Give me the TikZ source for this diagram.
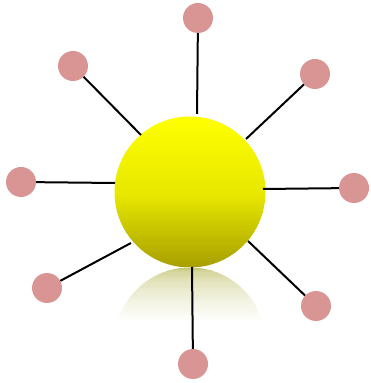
\documentclass[tikz,border=0pt]{standalone}
\usepackage{tikz}
\usetikzlibrary{positioning}
\definecolor{cPink}{HTML}{D99594}
\definecolor{cSunTop}{HTML}{FFFF00}
\definecolor{cSunMid}{HTML}{E8E800}
\definecolor{cSunBot}{HTML}{A8A000}
\definecolor{cRefl}{HTML}{C8C87C}
\definecolor{cInk}{HTML}{000000}
\tikzset{
  sun/.style ={circle,minimum size=151pt,inner sep=0pt},
  ball/.style={circle,minimum size=30pt,inner sep=0pt,fill=cPink},
  ray/.style ={line width=2pt,cInk},
}

\begin{document}
\begin{tikzpicture}[x=1pt,y=1pt]
\useasboundingbox (0,0) rectangle (371,383);
% reflection under the sun
\begin{scope}
  \clip (190,40) circle (75.5);
  \foreach \i in {0,...,24}{
    \pgfmathtruncatemacro\p{100*sqrt(\i/24)}
    \fill[white!\p!cRefl] (110,{115-\i*2.2}) rectangle (270,{115-(\i+1)*2.2-0.4});
  }
\end{scope}
% the sun, shaded in strips
\node[sun] (sun) at (190,191) {};
\begin{scope}
  \clip (sun.center) circle (75.5);
  \foreach \i in {0,...,29}{
    \pgfmathtruncatemacro\p{100*\i/29}
    \fill[cSunMid!\p!cSunTop] (110,{266.5-\i*2.52}) rectangle (270,{266.5-(\i+1)*2.52-0.4});
  }
  \foreach \i in {0,...,29}{
    \pgfmathtruncatemacro\p{100*\i/29}
    \fill[cSunBot!\p!cSunMid] (110,{191-\i*2.52}) rectangle (270,{191-(\i+1)*2.52-0.4});
  }
\end{scope}
\node[ball] (p1) at (198,365) {};
\node[ball] (p2) at (315,309) {};
\node[ball] (p3) at (354,195) {};
\node[ball] (p4) at (316,77)  {};
\node[ball] (p5) at (193,19)  {};
\node[ball] (p6) at (47,95)   {};
\node[ball] (p7) at (21,201)  {};
\node[ball] (p8) at (73,317)  {};
% ends on the sun
\coordinate (e1) at (197,269);
\coordinate (e2) at (246,244);
\coordinate (e3) at (263,194);
\coordinate (e4) at (248,142);
\coordinate (e5) at (192,116);
\coordinate (e6) at (131,140);
\coordinate (e7) at (115,200);
\coordinate (e8) at (141,248);
\draw[ray] (p1)--(e1); \draw[ray] (p2)--(e2);
\draw[ray] (p3)--(e3); \draw[ray] (p4)--(e4);
\draw[ray] (p5)--(e5); \draw[ray] (p6)--(e6);
\draw[ray] (p7)--(e7); \draw[ray] (p8)--(e8);
\end{tikzpicture}
\end{document}
